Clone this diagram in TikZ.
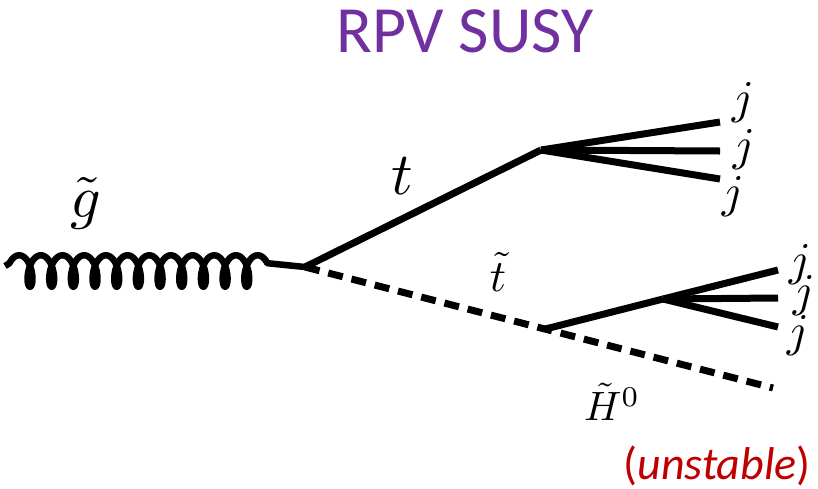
\documentclass[tikz,border=0pt]{standalone}
\usepackage{fontspec}
\newfontfamily\calib{Carlito}
\usetikzlibrary{calc}
\definecolor{rpvpurple}{HTML}{7030A0}
\definecolor{unstred}{HTML}{C00000}
\begin{document}
\begin{tikzpicture}[x=1pt,y=-1pt,
  fer/.style={line width=7pt, line join=round},
  sca/.style={line width=7pt, dash pattern=on 15pt off 9pt},
  glu/.style={line width=6.5pt, line join=round},
  lbl/.style={inner sep=0pt},
]
\useasboundingbox (0,0) rectangle (818,488);
% vertices
\coordinate (G0) at (5,266);
\coordinate (V) at (305,267);
\coordinate (T) at (541,150);
\coordinate (Hend) at (773,388);
\coordinate (S) at ($(V)!0.513!(Hend)$);
\coordinate (B) at (663,299);
\coordinate (tj1) at (720,122);
\coordinate (tj2) at (720,151);
\coordinate (tj3) at (720,179);
\coordinate (bj1) at (778,270);
\coordinate (bj2) at (778,298);
\coordinate (bj3) at (778,327);
% gluon
\draw[glu] (G0) -- plot[domain=-4.2:67.03, samples=800, smooth]
  ({30 + 3.45*\x - 7*sin(\x r)}, {271 + 15.7*cos(\x r)}) -- (V);
% top quark and its jets
\draw[fer] (V) -- (T);
\draw[fer] (T) -- (tj1);
\draw[fer] (T) -- (tj2);
\draw[fer] (T) -- (tj3);
% stop / higgsino dashed line
\draw[sca] (V) -- (Hend);
\draw[fer] (S) -- (B);
\draw[fer] (B) -- (bj1);
\draw[fer] (B) -- (bj2);
\draw[fer] (B) -- (bj3);
% labels
\node[lbl, scale=6] (lg) at (86,203) {$\tilde g$};
\node[lbl, scale=6] (lt) at (402,176) {$t$};
\node[lbl, scale=4.5] (lst) at (498,272) {$\tilde t$};
\node[lbl, scale=4.1] (lh) at (612,402) {$\tilde H^0$};
\node[lbl, scale=4.7] (j1) at (743,103) {$j$};
\node[lbl, scale=4.7] (j2) at (744,150) {$j$};
\node[lbl, scale=4.7] (j3) at (733,197) {$j$};
\node[lbl, scale=4.7] (j4) at (800,265) {$j$};
\node[lbl, scale=4.7] (j5) at (804,296) {$j$};
\node[lbl, scale=4.7] (j6) at (798,336) {$j$};
\node[lbl, text=rpvpurple, font=\calib\fontsize{66}{66}\selectfont, anchor=base] (title) at (465,52) {RPV SUSY};
\node[lbl, text=unstred, font=\calib\fontsize{46}{46}\selectfont, anchor=base] (unst) at (717,479) {(\textit{unstable})};
\end{tikzpicture}
\end{document}
